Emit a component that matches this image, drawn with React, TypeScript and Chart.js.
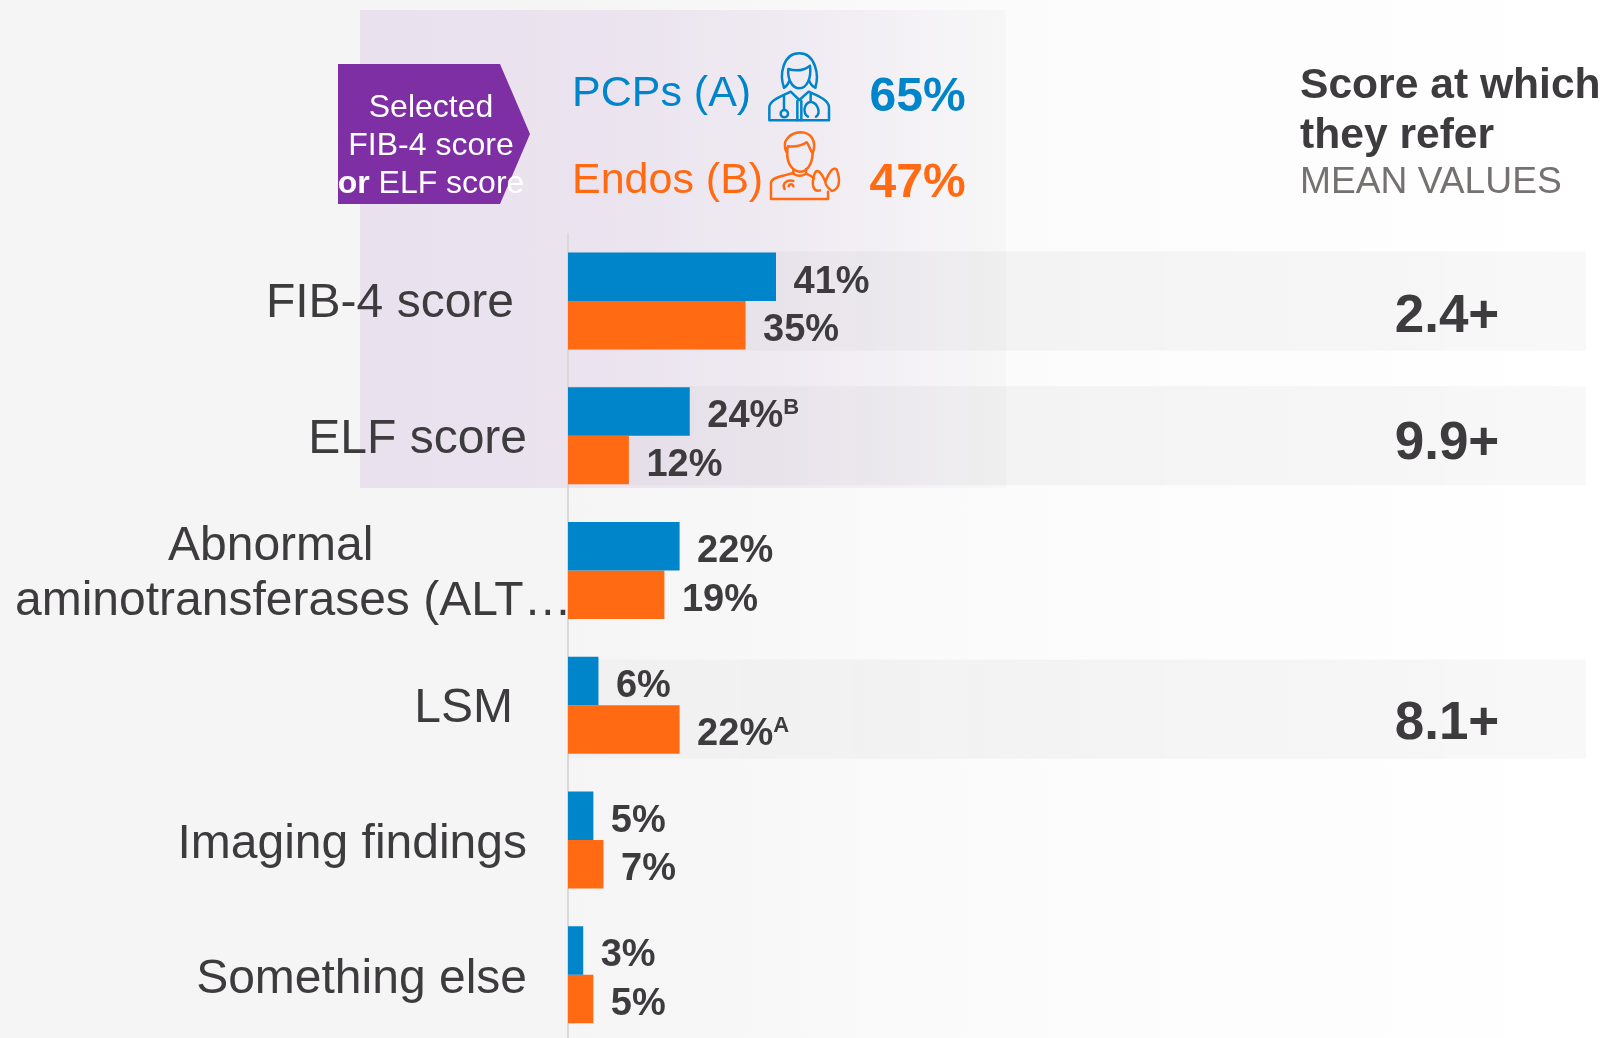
import React, { useEffect, useRef } from "react";
import { Chart, registerables } from "chart.js";

Chart.register(...registerables);

const categories: string[][] = [
  ["FIB-4 score"],
  ["ELF score"],
  ["Abnormal", "aminotransferases (ALT…"],
  ["LSM"],
  ["Imaging findings"],
  ["Something else"],
];
const pcpValues = [41, 24, 22, 6, 5, 3];
const endoValues = [35, 12, 19, 22, 7, 5];
const pcpSuperscripts = ["", "B", "", "", "", ""];
const endoSuperscripts = ["", "", "", "A", "", ""];
const referralScores = ["2.4+", "9.9+", "", "8.1+", "", ""];
const pcpName = "PCPs (A)";
const endoName = "Endos (B)";
const pcpSelected = "65%";
const endoSelected = "47%";

const BLUE = "#0085CA";
const ORANGE = "#FF6A13";
const DARK = "#3d3b3e";
const FAMILY = '"Liberation Sans", Arial, sans-serif';

// per-row text placement: left edge or right edge of each label line, and baseline offset from the row centre
const labelLayout = [
  [{ align: "right", x: 514, dy: 16 }],
  [{ align: "right", x: 527, dy: 17 }],
  [
    { align: "left", x: 168, dy: -10 },
    { align: "left", x: 15, dy: 45 },
  ],
  [{ align: "right", x: 513, dy: 17 }],
  [{ align: "right", x: 527, dy: 18 }],
  [{ align: "right", x: 527, dy: 18 }],
];
const scoreOffsets = [31, 23, 0, 34, 0, 0];
const bandOffsets = [0, 0, 0, 4, 0, 0];

const overlayPlugin = {
  id: "overlay",
  beforeDatasetsDraw(chart: any) {
    const { ctx, chartArea, scales } = chart;
    const grad = ctx.createLinearGradient(chartArea.left, 0, 1586, 0);
    grad.addColorStop(0, "rgba(40,40,40,0.025)");
    grad.addColorStop(0.45, "rgba(40,40,40,0.04)");
    grad.addColorStop(1, "rgba(40,40,40,0.03)");
    ctx.save();
    ctx.fillStyle = grad;
    referralScores.forEach((s, i) => {
      if (!s) return;
      const c = scales.y.getPixelForTick(i) + bandOffsets[i];
      ctx.fillRect(chartArea.left, c - 49.5, 1586 - chartArea.left, 99);
    });
    ctx.restore();
  },
  afterDatasetsDraw(chart: any) {
    const { ctx, scales } = chart;
    ctx.save();
    ctx.textBaseline = "alphabetic";
    ctx.fillStyle = DARK;

    // category labels, at the y scale's tick positions
    ctx.font = `48px ${FAMILY}`;
    categories.forEach((lines, i) => {
      const c = scales.y.getPixelForTick(i);
      lines.forEach((line, j) => {
        const p: any = labelLayout[i][j];
        ctx.textAlign = p.align;
        ctx.fillText(line, p.x, c + p.dy);
      });
    });

    // value labels at the bar ends
    const sups = [pcpSuperscripts, endoSuperscripts];
    chart.data.datasets.forEach((ds: any, d: number) => {
      const meta = chart.getDatasetMeta(d);
      meta.data.forEach((el: any, i: number) => {
        const text = `${ds.data[i]}%`;
        const x = el.x + 17.5;
        const y = el.y + 16;
        ctx.textAlign = "left";
        ctx.font = `bold 38px ${FAMILY}`;
        ctx.fillText(text, x, y);
        const w = ctx.measureText(text).width;
        if (sups[d][i]) {
          ctx.font = `bold 22px ${FAMILY}`;
          ctx.fillText(sups[d][i], x + w, y - 13);
        }
      });
    });

    // referral score column
    ctx.font = `bold 53px ${FAMILY}`;
    ctx.textAlign = "center";
    referralScores.forEach((s, i) => {
      if (s) ctx.fillText(s, 1447, scales.y.getPixelForTick(i) + scoreOffsets[i]);
    });
    ctx.restore();
  },
};

function Txt({ left, y, size, color, bold, children, center }: any) {
  return (
    <div
      style={{
        position: "absolute",
        left,
        top: y,
        transform: center ? "translate(-50%,-50%)" : "translateY(-50%)",
        fontFamily: FAMILY,
        fontSize: size,
        lineHeight: 1,
        color,
        fontWeight: bold ? 700 : 400,
        whiteSpace: "nowrap",
      }}
    >
      {children}
    </div>
  );
}

function Icons() {
  const common = { fill: "none", strokeWidth: 7.5, strokeLinecap: "round", strokeLinejoin: "round" } as any;
  return (
    <svg
      viewBox="0 0 270 480"
      width={90}
      height={160}
      style={{ position: "absolute", left: 760, top: 45 }}
    >
      <g {...common} stroke={BLUE}>
        <path d="M72 128 C58 90 68 25 118 25 C166 25 178 90 166 128" />
        <path d="M72 128 C78 125 84 118 88 108 M166 128 C158 125 152 118 148 108" />
        <path d="M85 72 C105 78 130 78 150 62 C155 100 140 130 118 130 C95 130 82 100 85 72 Z" />
        <path d="M28 226 L28 186 C30 165 62 155 92 140 L118 165 L146 140 C180 155 205 165 207 186 L207 226 Z" />
        <path d="M112 168 V226 M124 168 V226" />
        <path d="M72 152 V195" />
        <circle cx="73" cy="206" r="11" />
        <path d="M152 146 V170 C130 175 128 205 144 215 M152 170 C176 175 182 205 168 215" />
      </g>
      <g {...common} stroke={ORANGE}>
        <path d="M80 322 C62 285 92 264 122 262 C152 262 172 288 158 326 C150 312 146 300 140 292 C122 304 100 306 84 304 Z" />
        <path d="M82 318 C78 362 104 380 120 380 C140 380 156 360 158 326" />
        <path d="M100 372 V386 C112 394 126 394 138 386 V372" />
        <path d="M100 384 C74 392 36 396 33 412 V462 H204 V440" />
        <path d="M138 386 C148 390 156 394 162 400" />
        <path d="M100 408 C76 402 66 420 74 432 M100 424 C98 416 88 416 86 424" />
        <path d="M180 436 C160 442 154 420 162 392 C168 366 182 378 196 410 C204 388 218 362 230 374 C240 400 242 432 216 438 C206 430 196 424 196 410" />
      </g>
    </svg>
  );
}

export default function App() {
  const ref = useRef<HTMLCanvasElement>(null);
  useEffect(() => {
    const chart = new Chart(ref.current!, {
      type: "bar",
      data: {
        labels: categories.map((c) => c.join(" ")),
        datasets: [
          { label: pcpName, data: pcpValues, backgroundColor: BLUE, categoryPercentage: 0.72, barPercentage: 1 },
          { label: endoName, data: endoValues, backgroundColor: ORANGE, categoryPercentage: 0.72, barPercentage: 1 },
        ],
      },
      options: {
        indexAxis: "y",
        responsive: false,
        animation: false,
        layout: { padding: { left: 568, top: 233.6, right: 0, bottom: 0 } },
        plugins: { legend: { display: false }, tooltip: { enabled: false } },
        scales: {
          x: { display: false, min: 0, max: 205 },
          y: {
            grid: { display: false, drawTicks: false },
            border: { display: true, color: "#d9d9d9", width: 2 },
            ticks: { display: false },
            afterFit: (s: any) => {
              s.width = 0;
            },
          },
        },
      },
      plugins: [overlayPlugin],
    } as any);
    return () => chart.destroy();
  }, []);

  return (
    <div
      style={{
        position: "absolute",
        left: 0,
        top: 0,
        width: 1608,
        height: 1038,
        overflow: "hidden",
        background: "linear-gradient(90deg,#f5f5f5 0%,#f5f5f5 35%,#fbfbfb 62%,#ffffff 100%)",
      }}
    >
      <div
        style={{
          position: "absolute",
          left: 360,
          top: 10,
          width: 646,
          height: 478,
          background: "linear-gradient(90deg,#e9e1ee 0%,#ebe4ef 40%,#efeaf2 65%,#f7f7f7 100%)",
        }}
      />
      <canvas ref={ref} width={1608} height={1042} style={{ position: "absolute", left: 0, top: 0 }} />
      <svg width={1608} height={300} style={{ position: "absolute", left: 0, top: 0 }}>
        <polygon points="338,64 500,64 530,134 500,204 338,204" fill="#7d2fa3" />
      </svg>
      <Txt left={431} y={105.5} size={32} color="#fff" center>
        Selected
      </Txt>
      <Txt left={431} y={144} size={32} color="#fff" center>
        FIB-4 score
      </Txt>
      <Txt left={431} y={182} size={32} color="#fff" center>
        <b>or</b> ELF score
      </Txt>
      <Txt left={572} y={91} size={43} color={BLUE}>
        {pcpName}
      </Txt>
      <Txt left={572} y={178} size={43} color={ORANGE}>
        {endoName}
      </Txt>
      <Icons />
      <Txt left={869.5} y={95} size={48} color={BLUE} bold>
        {pcpSelected}
      </Txt>
      <Txt left={869.5} y={181} size={48} color={ORANGE} bold>
        {endoSelected}
      </Txt>
      <Txt left={1300} y={83} size={42.6} color={DARK} bold>
        Score at which
      </Txt>
      <Txt left={1300} y={133} size={42.6} color={DARK} bold>
        they refer
      </Txt>
      <Txt left={1300} y={180.5} size={37.2} color="#767171">
        MEAN VALUES
      </Txt>
    </div>
  );
}
